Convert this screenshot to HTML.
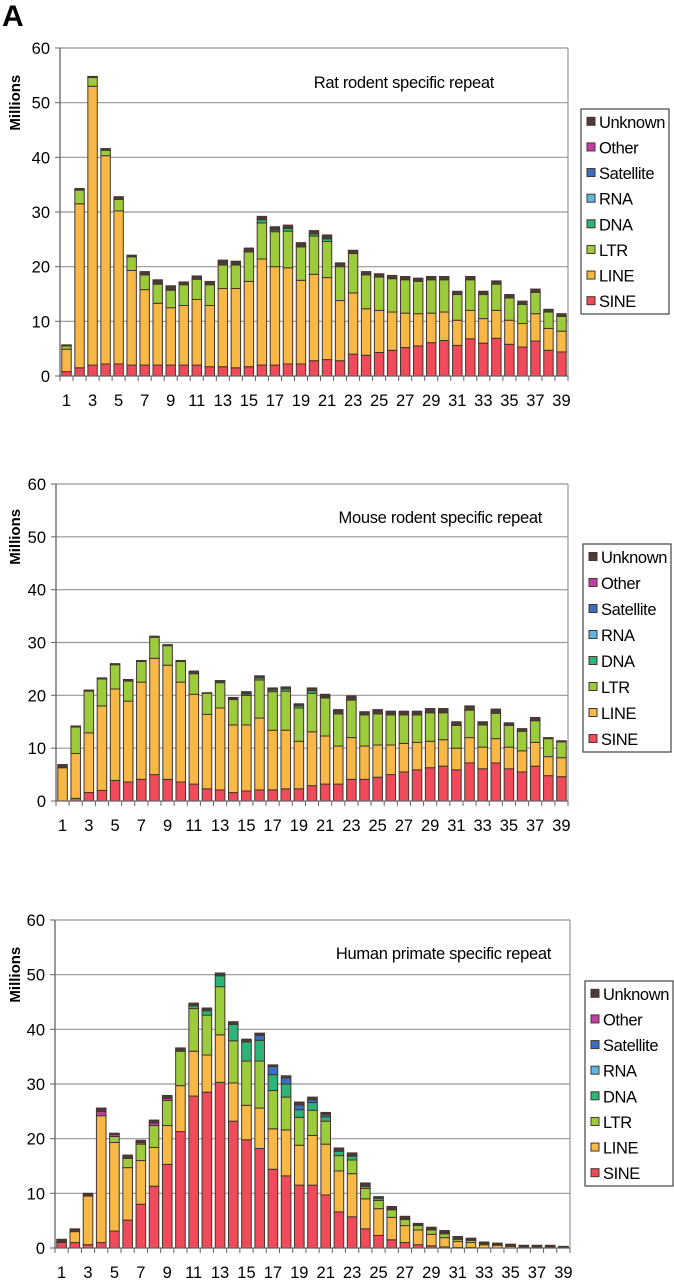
<!DOCTYPE html>
<html><head><meta charset="utf-8"><style>
html,body{margin:0;padding:0;background:#fff;}
svg{display:block;font-family:"Liberation Sans",Arial,sans-serif;}
</style></head><body>
<svg id="fig" width="674" height="1280" viewBox="0 0 674 1280" xmlns="http://www.w3.org/2000/svg">
<text x="2" y="26" font-size="30" font-weight="bold">A</text>
</svg>
<script>
const categories = Array.from({length:39},(_,i)=>String(i+1));
const yTicks = [0,10,20,30,40,50,60];
const legendLabels = ["Unknown","Other","Satellite","RNA","DNA","LTR","LINE","SINE"];
const seriesNames = ["SINE","LINE","LTR","DNA","RNA","Satellite","Other","Unknown"];
const seriesColors = {SINE:"#f04a5b",LINE:"#f8b845",LTR:"#9ccb3c",DNA:"#2db579",RNA:"#5cb7e2",Satellite:"#3a6fc2",Other:"#c13fa2",Unknown:"#4b3b3b"};

// Rat
const ratSINE=[0.8,1.5,2,2.2,2.2,2,2,2,2,2,2,1.7,1.7,1.5,1.7,2,2,2.2,2.2,2.8,3,2.8,4,3.8,4.3,4.7,5.2,5.5,6.1,6.5,5.6,6.8,6,6.9,5.8,5.3,6.4,4.7,4.4];
const ratLINE=[4.1,30,51,38.1,28,17.3,13.8,11.3,10.5,10.9,12,11.2,14.3,14.5,15.6,19.4,18,17.6,15.3,15.8,15,11,11.2,8.5,7.7,7,6.3,5.9,5.4,5.2,4.6,5.2,4.5,5.1,4.4,4.3,5,4,3.8];
const ratLTR=[0.6,2.5,1.6,1,2.1,2.5,2.7,3.5,3.2,3.8,3.7,3.8,4.3,4.3,5.4,6.6,6.4,6.7,6.1,7,6.6,6.2,7.2,6.2,6.1,6.1,6.1,5.9,6.1,5.9,4.7,5.6,4.4,4.8,4.1,3.5,3.9,3,2.7];
const ratDNA=[0,0,0,0,0,0,0.1,0.1,0.1,0,0,0,0,0,0,0.6,0.3,0.5,0.2,0.4,0.5,0,0,0,0,0,0,0,0,0,0,0,0,0,0,0,0,0,0];
const ratUnknown=[0.2,0.3,0.2,0.3,0.5,0.3,0.5,0.7,0.7,0.5,0.6,0.6,0.9,0.7,0.7,0.6,0.6,0.6,0.6,0.6,0.7,0.7,0.6,0.6,0.6,0.6,0.6,0.6,0.6,0.6,0.6,0.6,0.6,0.6,0.6,0.6,0.6,0.5,0.5];

// Mouse
const mouseSINE=[0,0.5,1.6,2,3.9,3.6,4.1,5,4.1,3.6,3.2,2.3,2.1,1.6,1.9,2.1,2.1,2.3,2.3,2.9,3.2,3.2,4.1,4.1,4.5,5,5.5,5.9,6.3,6.6,5.9,7.2,6.1,7.2,6.1,5.5,6.6,4.8,4.6];
const mouseLINE=[6.3,8.5,11.3,16,17.3,15.3,18.4,22,21.6,18.9,17,14.1,15.5,12.8,12.5,13.6,11.3,11.1,9,10.2,9.1,7.2,7.9,6.3,6.1,5.6,5.4,5.2,5,5,4.1,4.8,4.1,4.6,4.1,4,4.5,3.6,3.6];
const mouseLTR=[0,5,7.9,5.1,4.6,3.8,3.9,4,3.7,3.9,3.9,4,4.8,4.8,5.6,7.2,7.3,7.4,6.3,7.3,7.2,6.1,7.1,5.9,5.9,5.7,5.4,5.2,5.4,5.1,4.3,5.2,4.2,4.8,4.1,3.7,4.1,3.4,3];
const mouseDNA=[0,0,0,0,0,0,0,0,0,0,0,0,0,0,0.3,0.4,0.3,0.4,0.4,0.5,0.2,0,0,0,0,0,0,0,0,0,0,0,0,0,0,0,0,0,0];
const mouseUnknown=[0.6,0.2,0.2,0.2,0.2,0.3,0.2,0.2,0.2,0.2,0.5,0.1,0.4,0.4,0.4,0.4,0.4,0.4,0.4,0.5,0.5,0.8,0.8,0.6,0.8,0.7,0.7,0.7,0.8,0.8,0.7,0.8,0.6,0.8,0.5,0.5,0.6,0.2,0.2];

// Human
const humanSINE=[1,1,0.6,1,3.1,5.1,8,11.3,15.3,21.3,27.8,28.5,30.3,23.2,19.8,18.2,14.4,13.2,11.5,11.5,9.7,6.6,5.7,3.5,2.3,1.5,1,0.6,0.4,0.2,0.1,0.1,0,0,0,0,0,0,0];
const humanLINE=[0.1,2,8.9,23.2,16.2,9.6,8,7.1,7.1,8.4,8.2,6.8,8.7,7,6.3,7.4,7.4,8.4,7.3,9.1,9.3,7.5,7.9,5.5,4.9,4.1,3.1,2.7,2.1,1.7,1.1,0.9,0.6,0.5,0.3,0.2,0.2,0.2,0.1];
const humanLTR=[0,0,0,0,1.1,1.7,3,4,4.6,6.3,7.8,7.3,8.8,7.7,8.1,8.6,7,6,5.1,4.6,4.2,2.8,2.5,1.9,1.5,1.4,1.1,0.8,0.8,0.7,0.4,0.4,0.2,0.2,0.2,0.2,0.1,0.1,0.1];
const humanDNA=[0,0,0,0,0,0,0,0,0,0.1,0.5,0.8,2,3,3.5,3.8,2.9,2.4,1.4,1.4,0.8,0.8,0.7,0.4,0.4,0.1,0.2,0.2,0.2,0.2,0.1,0.1,0,0,0,0,0,0,0];
const humanRNA=[0,0,0,0,0,0,0,0,0,0,0,0,0,0,0,0,0,0,0,0,0,0,0,0,0,0,0,0,0,0,0,0,0,0,0,0,0,0,0];
const humanSatellite=[0,0,0,0,0,0,0,0,0,0,0,0,0,0,0,0.9,1.5,1.1,0.9,0.5,0.4,0,0.2,0,0,0,0,0,0,0,0,0,0,0,0,0,0,0,0];
const humanOther=[0,0,0,0.8,0.4,0,0.3,0.5,0.4,0,0,0,0,0,0,0,0,0,0,0,0,0,0,0,0,0,0,0,0,0,0,0,0,0,0,0,0,0,0];
const humanUnknown=[0.5,0.5,0.5,0.6,0.2,0.6,0.4,0.5,0.5,0.5,0.5,0.5,0.5,0.5,0.5,0.4,0.3,0.4,0.5,0.5,0.4,0.6,0.4,0.6,0.3,0.5,0.4,0.2,0.3,0.4,0.4,0.3,0.3,0.2,0.2,0.1,0.2,0.2,0.1];

const charts = [
  {key:"rat", title:"Rat rodent specific repeat", left:60,right:568,top:48,zero:376, titleX:494,titleY:88, leg:{x:581,y:109,w:88,h:205},
   series:{SINE:ratSINE,LINE:ratLINE,LTR:ratLTR,DNA:ratDNA,Unknown:ratUnknown}},
  {key:"mouse", title:"Mouse rodent specific repeat", left:56,right:568,top:484,zero:801, titleX:542,titleY:523, leg:{x:583,y:544,w:88,h:208},
   series:{SINE:mouseSINE,LINE:mouseLINE,LTR:mouseLTR,DNA:mouseDNA,Unknown:mouseUnknown}},
  {key:"human", title:"Human primate specific repeat", left:55,right:570,top:920,zero:1248, titleX:551,titleY:959, leg:{x:585,y:981,w:88,h:205},
   series:{SINE:humanSINE,LINE:humanLINE,LTR:humanLTR,DNA:humanDNA,RNA:humanRNA,Satellite:humanSatellite,Other:humanOther,Unknown:humanUnknown}}
];

const NS="http://www.w3.org/2000/svg";
const svg=document.getElementById("fig");
function mk(tag,attrs,parent){const e=document.createElementNS(NS,tag);for(const k in attrs)e.setAttribute(k,attrs[k]);(parent||svg).appendChild(e);return e;}

charts.forEach(c=>{
  const g=mk("g",{});
  
  
  const yScale=v=>c.zero-(v/60)*(c.zero-c.top);
  const slot=(c.right-c.left)/categories.length;
  const xScale=i=>c.left+i*slot;
  yTicks.forEach(t=>{
    const y=yScale(t);
    if(t>0){
      const l=mk("line",{x1:c.left,x2:c.right,y1:y,y2:y,stroke:"#9a9595","stroke-width":1.2},g);
      
      
    }
    mk("line",{x1:c.left-5,x2:c.left,y1:y,y2:y,stroke:"#6a6060","stroke-width":1},g);
    const tx=mk("text",{x:c.left-10,y:y+6,"text-anchor":"end","font-size":16.5},g);
    tx.textContent=t;
    
    
  });
  mk("line",{x1:c.right,x2:c.right,y1:c.top,y2:c.zero,stroke:"#9a9595","stroke-width":1.2},g);
  categories.forEach((cat,i)=>{
    let cum=0;
    const x=xScale(i)+1.8, w=slot-3.6;
    seriesNames.forEach(s=>{
      const arr=c.series[s]; if(!arr) return;
      const v=arr[i]; if(!v) return;
      const y0=yScale(cum), y1=yScale(cum+v);
      cum+=v;
      const r=mk("rect",{x:x,y:y1,width:w,height:Math.max(y0-y1,0.5),fill:seriesColors[s],stroke:"#45352c","stroke-width":1},g);
      
      
    });
  });
  mk("line",{x1:c.left,x2:c.left,y1:c.top,y2:c.zero,stroke:"#6a6060","stroke-width":1.3},g);
  mk("line",{x1:c.left,x2:c.right,y1:c.zero,y2:c.zero,stroke:"#6a6060","stroke-width":1.3},g);
  for(let i=0;i<=categories.length;i++){
    mk("line",{x1:xScale(i),x2:xScale(i),y1:c.zero,y2:c.zero+5,stroke:"#6a6060","stroke-width":1},g);
  }
  categories.forEach((cat,i)=>{
    if(i%2) return;
    const t=mk("text",{x:xScale(i)+slot/2,y:c.zero+30,"text-anchor":"middle","font-size":16.5},g);
    t.textContent=cat;
    
    
  });
  const my=(c.top+yScale(40))/2;
  const yt=mk("text",{x:0,y:0,transform:`translate(20,${my}) rotate(-90)`,"text-anchor":"middle","font-size":15,"font-weight":"bold"},g);
  yt.textContent="Millions";
  
  
  const tt=mk("text",{x:c.titleX,y:c.titleY,"text-anchor":"end","font-size":16.5,"letter-spacing":"-0.3"},g);
  tt.textContent=c.title;
  
  
  const L=c.leg;
  const lg=mk("g",{},g);
  
  
  mk("rect",{x:L.x,y:L.y,width:L.w,height:L.h,fill:"#fff",stroke:"#444","stroke-width":1.2},lg);
  const step=L.h/8;
  legendLabels.forEach((lab,k)=>{
    const cy=L.y+step*(k+0.5);
    const e=mk("g",{},lg);
    
    
    mk("rect",{x:L.x+6,y:cy-4.5,width:8,height:8,fill:seriesColors[lab],stroke:"#45352c","stroke-width":1},e);
    const t=mk("text",{x:L.x+18,y:cy+6,"font-size":16.5,"letter-spacing":"-0.4"},e);
    t.textContent=lab;
  });
});
</script>
</body></html>
